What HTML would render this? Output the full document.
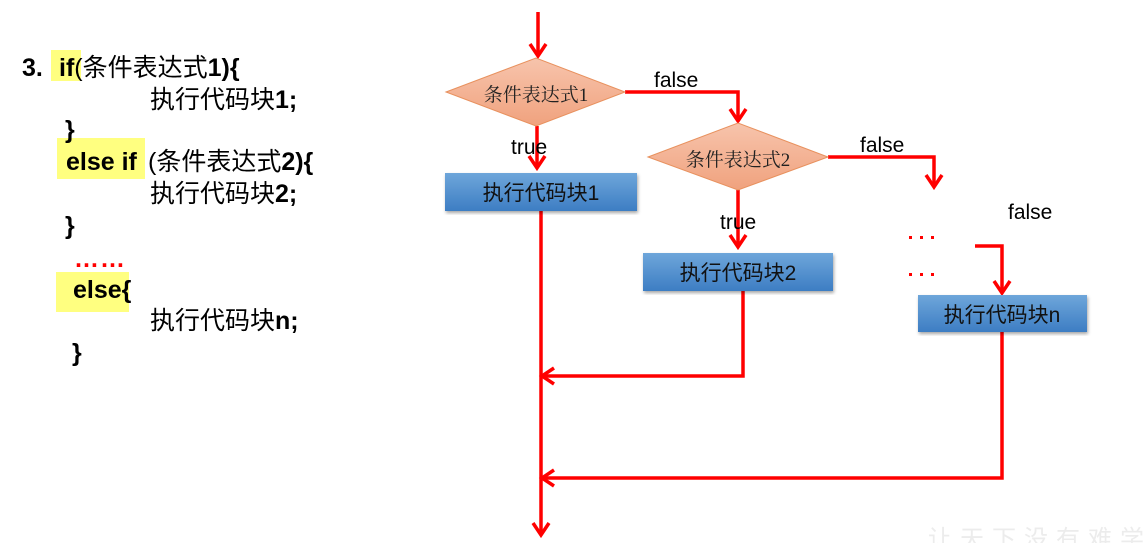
<!DOCTYPE html>
<html><head><meta charset="utf-8"><style>
body{margin:0;width:1145px;height:543px;background:#fff;overflow:hidden;position:relative;font-family:"Liberation Sans","Noto Sans CJK SC",sans-serif;}
.t{position:absolute;font-size:25px;color:#000;white-space:nowrap;line-height:30px;}
.b{font-weight:bold;}
.hl{position:absolute;background:#ffff80;}
</style></head><body>
<div class="hl" style="left:51px;top:50px;width:30px;height:31px"></div>
<div class="hl" style="left:57px;top:138px;width:88px;height:41px"></div>
<div class="hl" style="left:56px;top:272px;width:73px;height:40px"></div>
<div class="t b" style="left:22px;top:53px">3.</div>
<div class="t" style="left:59px;top:53px"><span class="b">if</span>(条件表达式<span class="b">1){</span></div>
<div class="t" style="left:150px;top:85px">执行代码块<span class="b">1;</span></div>
<div class="t b" style="left:65px;top:115px">}</div>
<div class="t b" style="left:66px;top:147px">else if</div>
<div class="t" style="left:148px;top:147px">(条件表达式<span class="b">2){</span></div>
<div class="t" style="left:150px;top:179px">执行代码块<span class="b">2;</span></div>
<div class="t b" style="left:65px;top:211px">}</div>
<div class="t b" style="left:74px;top:244px;color:#f00;letter-spacing:1px">……</div>
<div class="t b" style="left:73px;top:275px">else{</div>
<div class="t" style="left:150px;top:306px">执行代码块<span class="b">n;</span></div>
<div class="t b" style="left:72px;top:338px">}</div>

<svg width="1145" height="543" style="position:absolute;left:0;top:0">
<defs>
<linearGradient id="bx" x1="0" y1="0" x2="0" y2="1"><stop offset="0" stop-color="#6ea6da"/><stop offset="1" stop-color="#3d7dc3"/></linearGradient>
<linearGradient id="dm" x1="0" y1="0" x2="0" y2="1"><stop offset="0" stop-color="#f7c4ac"/><stop offset="1" stop-color="#f0a27e"/></linearGradient>
<filter id="sh"><feDropShadow dx="1" dy="2" stdDeviation="1.5" flood-opacity="0.35"/></filter>
</defs>
<g fill="none" stroke="#f00" stroke-width="3.5" stroke-linejoin="miter">
<path d="M538 12V56"/><path d="M530 44l8 12 8-12"/>
<path d="M537 126V168"/><path d="M529 156l8 12 8-12"/>
<path d="M625 92H738V121"/><path d="M730 109l8 12 8-12"/>
<path d="M738 190V247"/><path d="M730 235l8 12 8-12"/>
<path d="M828 157H934V187"/><path d="M926 175l8 12 8-12"/>
<path d="M975 246H1002V293"/><path d="M994 281l8 12 8-12"/>
<path d="M541 211V535"/><path d="M533 523l8 12 8-12"/>
<path d="M743 291V376H542"/><path d="M554 368l-12 8 12 8"/>
<path d="M1002 332V478H542"/><path d="M554 470l-12 8 12 8"/>
</g>
<polygon points="446,92 536,58 625,92 536,126" fill="url(#dm)" stroke="#e8915e" stroke-width="1"/>
<polygon points="648,157 738,123 828,157 738,190" fill="url(#dm)" stroke="#e8915e" stroke-width="1"/>
<rect x="445" y="173" width="192" height="38" fill="url(#bx)" filter="url(#sh)"/>
<rect x="643" y="253" width="190" height="38" fill="url(#bx)" filter="url(#sh)"/>
<rect x="918" y="295" width="169" height="37" fill="url(#bx)" filter="url(#sh)"/>
<g font-family="Liberation Serif, Noto Serif CJK SC, serif" font-size="19" fill="#222" text-anchor="middle">
<text x="536" y="101">条件表达式1</text>
<text x="738" y="166">条件表达式2</text>
</g>
<g font-family="Liberation Sans, Noto Sans CJK SC, sans-serif" font-size="21" fill="#111" text-anchor="middle">
<text x="541" y="200">执行代码块1</text>
<text x="738" y="280">执行代码块2</text>
<text x="1002" y="322">执行代码块n</text>
</g>
<g font-family="Liberation Sans, sans-serif" font-size="21" fill="#000">
<text x="654" y="87">false</text>
<text x="511" y="154">true</text>
<text x="720" y="229">true</text>
<text x="860" y="152">false</text>
<text x="1008" y="219">false</text>
</g>
<g fill="#f00">
<rect x="909" y="236" width="3" height="3"/><rect x="920" y="236" width="3" height="3"/><rect x="931" y="236" width="3" height="3"/>
<rect x="909" y="273" width="3" height="3"/><rect x="920" y="273" width="3" height="3"/><rect x="931" y="273" width="3" height="3"/>
</g>
<text x="928" y="547" font-family="Noto Sans CJK SC, sans-serif" font-size="24" fill="#ececec" letter-spacing="8">让天下没有难学的</text>
</svg>
</body></html>
